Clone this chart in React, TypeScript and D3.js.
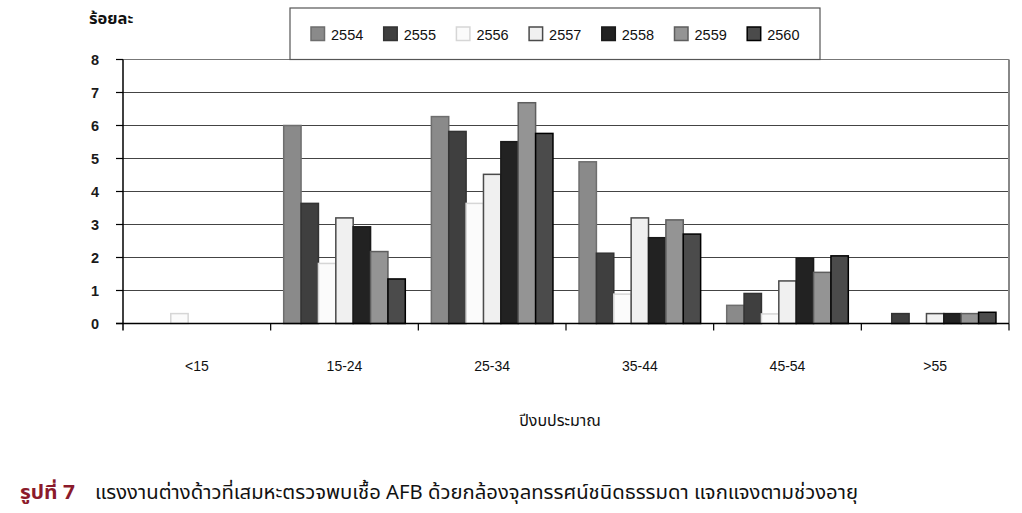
import React from "react";
import * as d3 from "d3";

const categories = ["<15", "15-24", "25-34", "35-44", "45-54", ">55"];
const seriesNames = ["2554", "2555", "2556", "2557", "2558", "2559", "2560"];
const v2554 = [0, 6.0, 6.27, 4.9, 0.55, 0];
const v2555 = [0, 3.64, 5.82, 2.13, 0.91, 0.3];
const v2556 = [0.3, 1.82, 3.64, 0.89, 0.29, 0];
const v2557 = [0, 3.2, 4.52, 3.2, 1.29, 0.3];
const v2558 = [0, 2.93, 5.51, 2.6, 1.98, 0.3];
const v2559 = [0, 2.18, 6.69, 3.14, 1.55, 0.3];
const v2560 = [0, 1.35, 5.76, 2.71, 2.05, 0.34];
const seriesValues = [v2554, v2555, v2556, v2557, v2558, v2559, v2560];
const yTicks = [0, 1, 2, 3, 4, 5, 6, 7, 8];

const fills = ["#8a8a8a", "#3f3f3f", "#fbfbfb", "#f0f0f0", "#222222", "#949494", "#4b4b4b"];
const strokes = ["#6e6e6e", "#333333", "#d6d6d6", "#4a4a4a", "#1a1a1a", "#5e5e5e", "#000000"];

export default function App() {
  const left = 123, right = 1009, top = 59.5, bottom = 323.5;
  const x = d3.scaleBand<string>().domain(categories).range([left, right]).padding(0);
  const bw = x.bandwidth();
  const gapFrac = 1.5;
  const barW = bw / (seriesNames.length + gapFrac);
  const offset = (barW * gapFrac) / 2;
  const y = d3.scaleLinear().domain([0, 8]).range([bottom, top]);
  const font = "'Liberation Sans', Arial, sans-serif";
  const thai = "'Noto Sans Thai', 'Loma', 'Garuda', 'Tlwg Typo', 'Noto Sans', sans-serif";

  return (
    <svg width={1022} height={513} style={{ position: "fixed", left: 0, top: 0, background: "#fff" }}>
      {/* gridlines */}
      {yTicks.map((t) => (
        <line key={"g" + t} x1={left} x2={right} y1={y(t)} y2={y(t)} stroke={t === 8 ? "#777" : "#444"} strokeWidth={1.2} />
      ))}
      <line x1={right} x2={right} y1={top} y2={bottom} stroke="#888" strokeWidth={2} />
      {/* bars */}
      {seriesValues.map((vals, si) =>
        vals.map((v, ci) =>
          v > 0 ? (
            <rect
              key={si + "-" + ci}
              x={(x(categories[ci]) as number) + offset + si * barW}
              y={y(v)}
              width={barW}
              height={y(0) - y(v)}
              fill={fills[si]}
              stroke={strokes[si]}
              strokeWidth={1.5}
            />
          ) : null
        )
      )}
      {/* axes */}
      <line x1={left} x2={left} y1={top} y2={bottom + 7} stroke="#000" strokeWidth={1.5} />
      <line x1={left - 7} x2={right} y1={bottom} y2={bottom} stroke="#000" strokeWidth={1.5} />
      {yTicks.map((t) => (
        <g key={"t" + t}>
          <line x1={left - 7} x2={left} y1={y(t)} y2={y(t)} stroke="#000" strokeWidth={1.2} />
          <text x={99} y={y(t) + 5} textAnchor="end" fontFamily={font} fontSize={14.5} fontWeight="bold" fill="#1a1a1a">
            {t}
          </text>
        </g>
      ))}
      {categories.map((c) => (
        <g key={"c" + c}>
          <line x1={(x(c) as number) + bw} x2={(x(c) as number) + bw} y1={bottom} y2={bottom + 7} stroke="#000" strokeWidth={1.2} />
          <text x={(x(c) as number) + bw / 2} y={371} textAnchor="middle" fontFamily={font} fontSize={14} fill="#111">
            {c}
          </text>
        </g>
      ))}
      {/* legend */}
      <rect x={290} y={8} width={530} height={51.5} fill="#fff" stroke="#555" strokeWidth={1.2} />
      {seriesNames.map((s, i) => (
        <g key={"l" + s}>
          <rect x={311 + i * 72.7} y={27} width={13.5} height={13.5} fill={fills[i]} stroke={strokes[i]} strokeWidth={1.5} />
          <text x={331 + i * 72.7} y={39.5} fontFamily={font} fontSize={14.5} fill="#111">
            {s}
          </text>
        </g>
      ))}
      {/* y label */}
      <text x={89} y={24} fontFamily={thai} fontSize={16.5} fontWeight="bold" fill="#111">ร้อยละ</text>
      {/* x title */}
      <text x={560} y={426} textAnchor="middle" fontFamily={thai} fontSize={16} fill="#111">ปีงบประมาณ</text>
      {/* caption */}
      <text x={20} y={499} fontFamily={thai} fontSize={19} fontWeight="bold" fill="#8b1a2b" textLength={55} lengthAdjust="spacingAndGlyphs">รูปที่ 7</text>
      <text x={95} y={499} fontFamily={thai} fontSize={19} fill="#111" textLength={763} lengthAdjust="spacingAndGlyphs">
        แรงงานต่างด้าวที่เสมหะตรวจพบเชื้อ AFB ด้วยกล้องจุลทรรศน์ชนิดธรรมดา แจกแจงตามช่วงอายุ
      </text>
    </svg>
  );
}
